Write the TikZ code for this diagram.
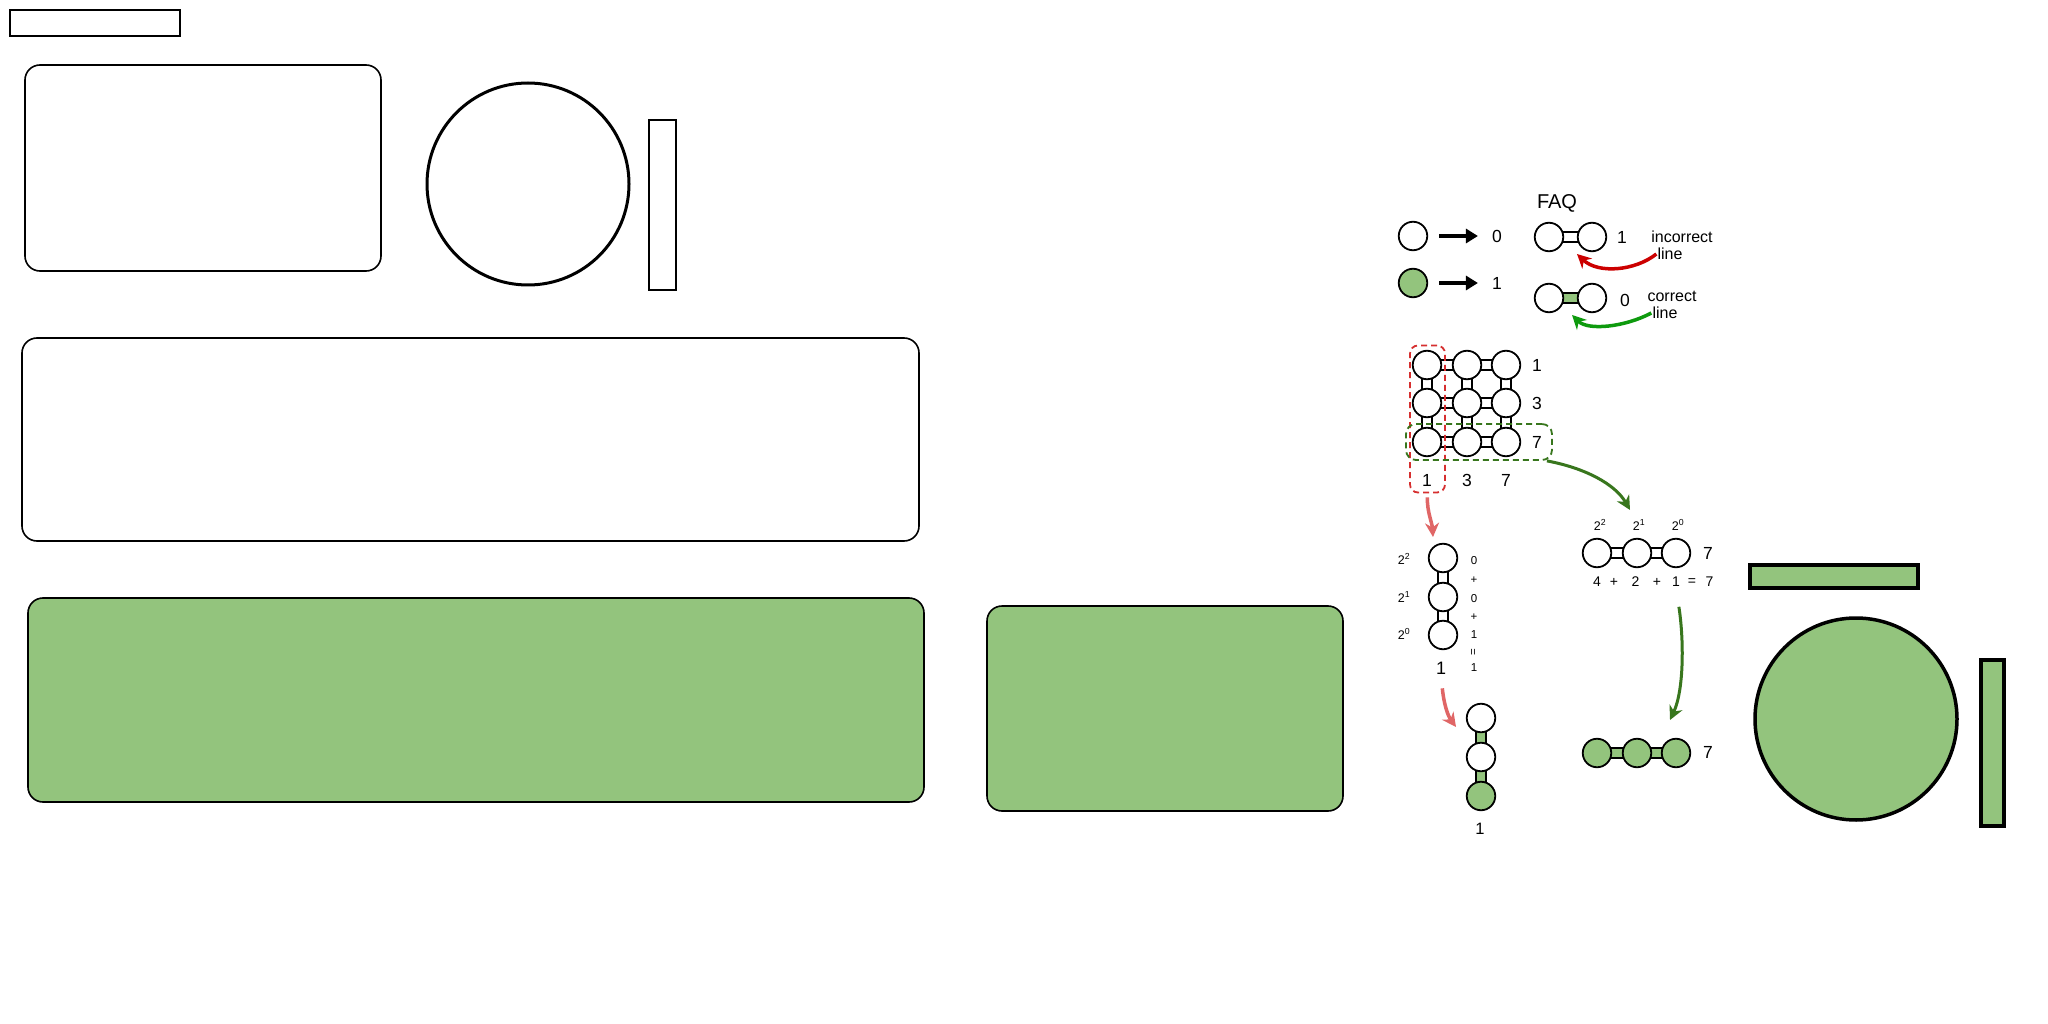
\documentclass[tikz,border=0pt]{standalone}
\usepackage{fontspec}
\setmainfont{Liberation Sans}
\usetikzlibrary{arrows.meta,backgrounds}
\definecolor{leaf}{HTML}{93C47D}
\definecolor{wrongred}{HTML}{CC0000}
\definecolor{okgreen}{HTML}{0E9A0E}
\definecolor{deepgreen}{HTML}{38761D}
\definecolor{softred}{HTML}{E06666}
\definecolor{dashred}{HTML}{D62F2F}

\begin{document}
\begin{tikzpicture}[x=1pt, y=-1pt,
  bit/.style={circle, draw, line width=1.8pt, fill=white, minimum size=28.5pt, inner sep=0pt},
  onebit/.style={bit, fill=leaf},
  link/.style={draw, line width=1.6pt, double=white, double distance=8.5pt, shorten <=-3pt, shorten >=-3pt},
  onelink/.style={link, double=leaf},
  num/.style={inner sep=1pt, font=\fontsize{17.5}{18}\selectfont},
  faq/.style={inner sep=1pt, font=\fontsize{20}{22}\selectfont},
  note/.style={inner sep=1pt, font=\fontsize{16}{17}\selectfont},
  expo/.style={inner sep=1pt, font=\fontsize{12.5}{13}\selectfont},
  sumtxt/.style={inner sep=1pt, font=\fontsize{11.5}{12}\selectfont},
  rowsum/.style={inner sep=1pt, font=\fontsize{14}{15}\selectfont},
  panel/.style={draw, line width=1.6pt, rounded corners=15pt},
  frame/.style={draw, line width=2.5pt},
  legarrow/.style={-{Triangle[length=12pt,width=14pt]}, line width=4pt, shorten <=11pt, shorten >=13pt},
  badarrow/.style={-{Stealth[length=14pt,width=14pt]}, line width=3.5pt, wrongred},
  okarrow/.style={-{Stealth[length=14pt,width=14pt]}, line width=3.5pt, okgreen},
  deeparrow/.style={-{Stealth[length=14pt,width=14pt]}, line width=3pt, deepgreen},
  softarrow/.style={-{Stealth[length=14pt,width=14pt]}, line width=3.5pt, softred},
  redbox/.style={draw=dashred, dash pattern=on 6pt off 4pt, line width=1.8pt, rounded corners=8pt, inner sep=0pt},
  greenbox/.style={draw=deepgreen, dash pattern=on 6pt off 4pt, line width=1.8pt, rounded corners=10pt, inner sep=0pt}]
  \useasboundingbox (0,0) rectangle (2048,1024);

  % plain shapes on the left
  \draw[frame] (10,10) rectangle (180,36);
  \draw[panel] (25,65) rectangle (381,271);
  \draw[frame, line width=3pt] (528,184) circle[radius=101pt];
  \draw[frame, line width=2.2pt] (649,120) rectangle (676,290);
  \draw[panel] (22,338) rectangle (919,541);
  \draw[panel, fill=leaf] (28,598) rectangle (924,802);
  \draw[panel, fill=leaf] (987,606) rectangle (1343,811);

  % green set on the right
  \draw[frame, fill=leaf, line width=4pt] (1750,565) rectangle (1918,588);
  \draw[frame, fill=leaf, line width=3.5pt] (1856,719) circle[radius=101pt];
  \draw[frame, fill=leaf, line width=4pt] (1981,660) rectangle (2004,826);

  % legend
  \node[bit] (l0) at (1413,236) {};
  \node[onebit] (l1) at (1413,283) {};
  \node[num] (v0) at (1497,236) {0};
  \node[num] (v1) at (1497,283) {1};
  \draw[legarrow] (l0) -- (v0);
  \draw[legarrow] (l1) -- (v1);

  % FAQ
  \node[faq] (faq) at (1557,203) {FAQ};
  \node[bit] (p1) at (1549,237) {};
  \node[bit] (p2) at (1592,237) {};
  \node[num] (pv) at (1622,237) {1};
  \node[note] (inc) at (1682,237) {incorrect};
  \node[note] (incl) at (1670,254) {line};
  \node[bit] (q1) at (1549,298) {};
  \node[bit] (q2) at (1592,298) {};
  \node[num] (qv) at (1625,300) {0};
  \node[note] (cor) at (1672,296) {correct};
  \node[note] (corl) at (1665,313) {line};

  % grid
  \node[bit] (g11) at (1427,365) {};
  \node[bit] (g12) at (1467,365) {};
  \node[bit] (g13) at (1506,365) {};
  \node[bit] (g21) at (1427,403) {};
  \node[bit] (g22) at (1467,403) {};
  \node[bit] (g23) at (1506,403) {};
  \node[bit] (g31) at (1427,442) {};
  \node[bit] (g32) at (1467,442) {};
  \node[bit] (g33) at (1506,442) {};
  \node[num] (r1) at (1537,365) {1};
  \node[num] (r2) at (1537,403) {3};
  \node[num] (r3) at (1537,442) {7};
  \node[num] (k1) at (1427,480) {1};
  \node[num] (k2) at (1467,480) {3};
  \node[num] (k3) at (1506,480) {7};
  \node[redbox, minimum width=35pt, minimum height=147pt] (colbox) at (1427.5,419) {};
  \node[greenbox, minimum width=146pt, minimum height=36pt] (rowbox) at (1479,442) {};

  % first column read downwards
  \node[bit] (d1) at (1443,558) {};
  \node[bit] (d2) at (1443,597) {};
  \node[bit] (d3) at (1443,635) {};
  \node[expo] (e1) at (1404,559) {2\textsuperscript{2}};
  \node[expo] (e2) at (1404,597) {2\textsuperscript{1}};
  \node[expo] (e3) at (1404,634) {2\textsuperscript{0}};
  \node[sumtxt] (s1) at (1474,561) {0};
  \node[sumtxt] (s2) at (1474,580) {+};
  \node[sumtxt] (s3) at (1474,599) {0};
  \node[sumtxt] (s4) at (1474,617) {+};
  \node[sumtxt] (s5) at (1474,635) {1};
  \node[sumtxt, rotate=90] (s6) at (1474,652) {=};
  \node[sumtxt] (s7) at (1474,668) {1};
  \node[num, font=\fontsize{18}{18}\selectfont] (dv) at (1441,668) {1};

  % last row read across
  \node[bit] (h1) at (1597,553) {};
  \node[bit] (h2) at (1637,553) {};
  \node[bit] (h3) at (1676,553) {};
  \node[num] (hv) at (1708,553) {7};
  \node[expo] (f1) at (1600,525) {2\textsuperscript{2}};
  \node[expo] (f2) at (1639,525) {2\textsuperscript{1}};
  \node[expo] (f3) at (1678,525) {2\textsuperscript{0}};
  \node[rowsum] (t1) at (1597,582) {4};
  \node[rowsum] (t2) at (1614,582) {+};
  \node[rowsum] (t3) at (1635.5,582) {2};
  \node[rowsum] (t4) at (1657,582) {+};
  \node[rowsum] (t5) at (1676,582) {1};
  \node[rowsum] (t6) at (1692,582) {=};
  \node[rowsum] (t7) at (1709.5,582) {7};

  % results
  \node[bit] (x1) at (1481,718) {};
  \node[bit] (x2) at (1481,757) {};
  \node[onebit] (x3) at (1481,796) {};
  \node[num, font=\fontsize{16.5}{17}\selectfont] (xv) at (1480,829) {1};
  \node[onebit] (y1) at (1597,753) {};
  \node[onebit] (y2) at (1637,753) {};
  \node[onebit] (y3) at (1676,753) {};
  \node[num] (yv) at (1708,752) {7};

  % links between the bits
  \begin{pgfonlayer}{background}
    \fill[white] (0,0) rectangle (2048,1024);
    \draw[link] (p1) -- (p2);
    \draw[onelink] (q1) -- (q2);
    \draw[link] (g11) -- (g12);
    \draw[link] (g12) -- (g13);
    \draw[link] (g21) -- (g22);
    \draw[link] (g22) -- (g23);
    \draw[link] (g31) -- (g32);
    \draw[link] (g32) -- (g33);
    \draw[link] (g11) -- (g21);
    \draw[link] (g21) -- (g31);
    \draw[link] (g12) -- (g22);
    \draw[link] (g22) -- (g32);
    \draw[link] (g13) -- (g23);
    \draw[link] (g23) -- (g33);
    \draw[link] (d1) -- (d2);
    \draw[link] (d2) -- (d3);
    \draw[link] (h1) -- (h2);
    \draw[link] (h2) -- (h3);
    \draw[onelink] (x1) -- (x2);
    \draw[onelink] (x2) -- (x3);
    \draw[onelink] (y1) -- (y2);
    \draw[onelink] (y2) -- (y3);
  \end{pgfonlayer}

  % arrows
  \coordinate (ptip) at (1577,254);
  \coordinate (qtip) at (1572,315);
  \coordinate (htip) at (1630,510);
  \coordinate (ytip) at (1670,720);
  \coordinate (dtip) at (1433,537);
  \coordinate (xtip) at (1456,727);
  \draw[badarrow] (incl.west) .. controls (1635,271) and (1598,274) .. (ptip);
  \draw[okarrow] (corl.west) .. controls (1625,327) and (1588,331) .. (qtip);
  \draw[deeparrow] ([xshift=-6pt]rowbox.south east) .. controls (1585,468) and (1615,484) .. (htip);
  \draw[deeparrow, shorten <=19pt] (t5.south) .. controls (1684,640) and (1684,690) .. (ytip);
  \draw[softarrow, shorten <=4pt] (colbox.south) .. controls (1427,512) and (1432,522) .. (dtip);
  \draw[softarrow, shorten <=13pt] (dv.south) .. controls (1444,705) and (1448,716) .. (xtip);
\end{tikzpicture}
\end{document}
